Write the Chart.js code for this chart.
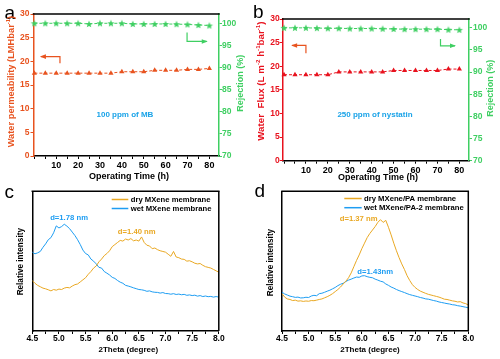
<!DOCTYPE html>
<html>
<head>
<title>MXene membranes</title>
<script src="https://cdn.jsdelivr.net/npm/chart.js"></script>
<style>
  body { margin: 0; background: #fff; }
  #wrap { position: relative; width: 500px; height: 359px; }
  #wrap canvas { position: absolute; left: 0; top: 0; }
</style>
</head>
<body>
<div id="wrap">
  <canvas id="chartA" width="500" height="359"></canvas>
  <canvas id="chartB" width="500" height="359"></canvas>
  <canvas id="chartC" width="500" height="359"></canvas>
  <canvas id="chartD" width="500" height="359"></canvas>
</div>
<script>
// ---- data ----
const hours = [0, 5, 10, 15, 20, 25, 30, 35, 40, 45, 50, 55, 60, 65, 70, 75, 80];
const permA = [17.5, 17.5, 17.5, 17.5, 17.5, 17.5, 17.5, 17.5, 17.8, 17.8, 17.8, 18.1, 18.1, 18.1, 18.3, 18.3, 18.5];
const rejA  = [100, 100, 100, 100, 100, 99.85, 100, 100, 100, 99.85, 99.85, 99.85, 99.85, 99.8, 99.75, 99.6, 99.5];
const fluxB = [18.2, 18.2, 18.2, 18.2, 18.2, 18.8, 18.8, 18.8, 18.8, 18.8, 19.1, 19.1, 19.1, 19.1, 19.1, 19.4, 19.4];
const rejB  = [100, 100, 100, 99.95, 99.9, 99.9, 99.85, 99.85, 99.85, 99.8, 99.75, 99.7, 99.7, 99.7, 99.7, 99.6, 99.55];

const hourTicks = [0, 5, 10, 15, 20, 25, 30, 35, 40, 45, 50, 55, 60, 65, 70, 75, 80];
const leftTicks = [0, 2.5, 5, 7.5, 10, 12.5, 15, 17.5, 20, 22.5, 25, 27.5, 30];
const rejTicks = [70, 72.5, 75, 77.5, 80, 82.5, 85, 87.5, 90, 92.5, 95, 97.5, 100];

const theta = [4.50, 4.55, 4.60, 4.65, 4.70, 4.75, 4.80, 4.85, 4.90, 4.95,
               5.00, 5.05, 5.10, 5.15, 5.20, 5.25, 5.30, 5.35, 5.40, 5.45,
               5.50, 5.55, 5.60, 5.65, 5.70, 5.75, 5.80, 5.85, 5.90, 5.95,
               6.00, 6.05, 6.10, 6.15, 6.20, 6.25, 6.30, 6.35, 6.40, 6.45,
               6.50, 6.55, 6.60, 6.65, 6.70, 6.75, 6.80, 6.85, 6.90, 6.95,
               7.00, 7.05, 7.10, 7.15, 7.20, 7.25, 7.30, 7.35, 7.40, 7.45,
               7.50, 7.55, 7.60, 7.65, 7.70, 7.75, 7.80, 7.85, 7.90, 7.95,
               8.00];
const dryC = [36.5, 34.5, 33.0, 32.0, 31.0, 30.5, 29.8, 29.0, 30.0, 29.5,
              30.3, 30.0, 31.0, 31.5, 31.2, 32.5, 33.5, 34.0, 35.5, 37.0,
              38.5, 41.0, 43.0, 45.5, 47.0, 50.0, 52.0, 54.5, 56.0, 58.0,
              61.0, 62.5, 64.0, 65.5, 65.0, 66.5, 65.8, 66.8, 65.2, 65.8,
              65.0, 68.0, 64.0, 62.0, 61.5, 59.5, 60.0, 58.8, 58.0, 57.5,
              57.0, 55.5, 54.0, 57.5, 53.5, 53.0, 52.0, 51.8, 50.5, 50.8,
              50.0, 49.0, 48.5, 48.8, 47.5, 46.5, 46.0, 45.5, 44.5, 43.5,
              42.5];
const wetC = [57.0, 55.8, 56.5, 57.5, 60.5, 63.0, 66.0, 67.5, 71.0, 76.0,
              74.5, 75.5, 77.2, 75.8, 74.0, 71.5, 69.0, 66.0, 62.5, 58.5,
              56.0, 55.0, 52.0, 50.5, 48.5, 46.0, 45.5, 43.0, 41.8, 40.5,
              38.8, 38.0, 36.5, 35.3, 34.5, 33.0, 32.5, 31.9, 31.2, 30.6,
              30.0, 29.8, 29.4, 28.7, 29.0, 28.3, 28.0, 27.9, 27.4, 27.8,
              27.1, 27.0, 26.6, 27.0, 26.4, 26.7, 26.2, 26.5, 25.8, 26.1,
              25.6, 25.9, 25.2, 25.6, 24.9, 25.3, 24.8, 25.0, 24.5, 24.9,
              24.5];
const dryD = [27.0, 24.5, 23.2, 22.8, 22.0, 22.3, 21.6, 21.8, 21.4, 21.7,
              21.5, 22.0, 21.9, 22.3, 22.8, 23.2, 24.0, 24.8, 25.8, 27.0,
              28.5, 30.0, 31.8, 34.0, 36.0, 38.5, 42.0, 46.5, 51.0, 55.0,
              59.5, 63.5, 67.5, 70.5, 73.0, 75.5, 78.5, 80.5, 78.5, 80.0,
              75.0, 69.5, 63.5, 58.0, 53.0, 48.5, 44.5, 40.0, 36.5, 33.5,
              31.5, 30.0, 28.8, 28.0, 27.2, 26.5, 26.0, 25.5, 25.0, 24.5,
              23.8, 23.0, 22.8, 22.3, 21.8, 21.5, 21.0, 21.2, 20.3, 19.8,
              18.8];
const wetD = [28.0, 26.8, 26.0, 25.2, 24.8, 24.3, 24.5, 23.9, 24.0, 24.4,
              24.2, 25.3, 25.8, 25.5, 27.0, 27.3, 28.0, 28.8, 29.5, 30.5,
              31.5, 32.8, 33.8, 34.5, 35.8, 36.8, 37.5, 38.3, 39.0, 38.8,
              39.8, 40.0, 39.3, 38.8, 38.5, 37.5, 36.8, 36.0, 35.5, 34.0,
              33.0, 31.8, 31.0, 30.0, 29.2, 28.5, 27.8, 27.0, 26.3, 25.8,
              25.3, 24.8, 24.2, 23.8, 23.2, 23.0, 22.5, 22.0, 21.6, 21.0,
              20.6, 20.2, 19.8, 19.5, 19.0, 18.8, 18.3, 18.0, 17.6, 17.2,
              16.8];
const thetaTicks = [4.5, 4.75, 5, 5.25, 5.5, 5.75, 6, 6.25, 6.5, 6.75, 7, 7.25, 7.5, 7.75, 8];

// ---- look ----
const W = 500, H = 359;
const FAMILY = "'Liberation Sans', Arial, Helvetica, sans-serif";
const ORANGE = '#E8531F', RED = '#E8121E', GREEN = '#3FCF62', CYAN = '#1AA3E8';
const YELLOW = '#E9A823', BLUE = '#1E9DF2';
Chart.defaults.font.family = FAMILY;

function pad(L, R, T, B, lw, rw, bh) {
  return { left: L - lw, right: W - R - rw, top: T, bottom: H - B - bh };
}
function setTicks(list) {
  return s => { s.ticks = list.map(v => ({ value: v })); };
}
function pts(xs, ys) {
  return xs.map((x, i) => ({ x: x, y: ys[i] }));
}
function starImage(color) {
  const c = document.createElement('canvas');
  c.width = 10; c.height = 10;
  const g = c.getContext('2d');
  g.fillStyle = color;
  g.beginPath();
  for (let i = 0; i < 10; i++) {
    const r = i % 2 ? 1.6 : 3.8;
    const a = -Math.PI / 2 + i * Math.PI / 5;
    g.lineTo(5 + r * Math.cos(a), 5.3 + r * Math.sin(a));
  }
  g.closePath();
  g.fill();
  return c;
}

function drawText(ctx, it) {
  const segs = Array.isArray(it.t) ? it.t : [[it.t]];
  const w = it.bold === false ? '' : 'bold ';
  const main = w + it.size + 'px ' + FAMILY;
  const sup = w + (it.size * 0.62).toFixed(2) + 'px ' + FAMILY;
  ctx.save();
  ctx.translate(it.x, it.y);
  if (it.rot) ctx.rotate(it.rot * Math.PI / 180);
  let total = 0;
  segs.forEach(s => { ctx.font = s[1] ? sup : main; total += ctx.measureText(s[0]).width; });
  let x = it.align === 'left' ? 0 : -total / 2;
  ctx.fillStyle = it.color || '#000';
  ctx.textBaseline = it.baseline || 'middle';
  ctx.textAlign = 'left';
  segs.forEach(s => {
    ctx.font = s[1] ? sup : main;
    ctx.fillText(s[0], x, s[1] ? -it.size * 0.38 : 0);
    x += ctx.measureText(s[0]).width;
  });
  ctx.restore();
}

// frame sides, arrows, notes, titles and legend
const deco = {
  id: 'deco',
  afterDraw(chart, args, opts) {
    const ctx = chart.ctx;
    const ca = chart.chartArea;
    ctx.save();
    ctx.lineWidth = 1.5;
    ctx.strokeStyle = '#000';
    (opts.frame || []).forEach(side => {
      ctx.beginPath();
      if (side === 'top') { ctx.moveTo(ca.left - 0.75, ca.top); ctx.lineTo(ca.right + 0.75, ca.top); }
      if (side === 'right') { ctx.moveTo(ca.right, ca.top); ctx.lineTo(ca.right, ca.bottom); }
      ctx.stroke();
    });
    const xs = chart.scales.x;
    (opts.arrows || []).forEach(a => {
      const ys = chart.scales[a.axis];
      const p = a.path.map(q => [xs.getPixelForValue(q[0]), ys.getPixelForValue(q[1])]);
      ctx.strokeStyle = a.color;
      ctx.fillStyle = a.color;
      ctx.lineWidth = 1.2;
      ctx.beginPath();
      p.forEach((q, i) => i ? ctx.lineTo(q[0], q[1]) : ctx.moveTo(q[0], q[1]));
      ctx.stroke();
      const [x1, y1] = p[p.length - 2], [x2, y2] = p[p.length - 1];
      const ang = Math.atan2(y2 - y1, x2 - x1);
      const c = Math.cos(ang), s = Math.sin(ang);
      ctx.beginPath();
      ctx.moveTo(x2 + c, y2 + s);
      ctx.lineTo(x2 - 5 * c + 2.3 * s, y2 - 5 * s - 2.3 * c);
      ctx.lineTo(x2 - 5 * c - 2.3 * s, y2 - 5 * s + 2.3 * c);
      ctx.closePath();
      ctx.fill();
    });
    (opts.notes || []).forEach(n => {
      const ys = chart.scales[n.axis || 'y'];
      drawText(ctx, Object.assign({}, n, { x: xs.getPixelForValue(n.x), y: ys.getPixelForValue(n.y) }));
    });
    (opts.texts || []).forEach(t => drawText(ctx, t));
    if (opts.legend) {
      const L = opts.legend;
      chart.data.datasets.forEach((d, i) => {
        const y = L.ys[i];
        ctx.strokeStyle = d.borderColor;
        ctx.lineWidth = 1.5;
        ctx.beginPath();
        ctx.moveTo(L.x1, y);
        ctx.lineTo(L.x2, y);
        ctx.stroke();
        drawText(ctx, { t: d.label, x: L.tx, y: y, size: 7.7, align: 'left' });
      });
    }
    ctx.restore();
  }
};

function timeScales(xmin, xmax, lColor, rmax, lPad, rPad) {
  return {
    x: {
      type: 'linear', min: xmin, max: xmax,
      afterBuildTicks: setTicks(hourTicks),
      afterFit: s => { s.height = 24; },
      border: { color: '#000', width: 1.5 },
      grid: { drawOnChartArea: false, tickLength: 3, color: '#000' },
      ticks: {
        autoSkip: false, maxRotation: 0, padding: 1, color: '#000',
        font: { size: 9, weight: 'bold' },
        callback: v => (v % 10 === 0 && v > 0) ? v : ''
      }
    },
    yL: {
      position: 'left', min: 0, max: 30,
      afterBuildTicks: setTicks(leftTicks),
      afterFit: s => { s.width = 30; },
      border: { color: lColor, width: 1.5 },
      grid: { drawOnChartArea: false, tickLength: 3, color: lColor },
      ticks: {
        padding: lPad, color: lColor, font: { size: 8.5, weight: 'bold' },
        callback: v => v % 5 === 0 ? v : ''
      }
    },
    yR: {
      position: 'right', min: 70, max: rmax,
      afterBuildTicks: setTicks(rejTicks),
      afterFit: s => { s.width = 30; },
      border: { color: GREEN, width: 1.5 },
      grid: { drawOnChartArea: false, tickLength: 3, color: GREEN },
      ticks: {
        padding: rPad, color: GREEN, font: { size: 8.5, weight: 'bold' },
        callback: v => v % 5 === 0 ? v : ''
      }
    }
  };
}

function timeSets(flux, rej, color) {
  return [{
    data: pts(hours, flux), yAxisID: 'yL',
    borderColor: color, borderWidth: 1, borderDash: [3, 2],
    pointStyle: 'triangle', pointRadius: 3, pointBorderWidth: 0,
    pointBackgroundColor: color, clip: false
  }, {
    data: pts(hours, rej), yAxisID: 'yR',
    borderColor: GREEN, borderWidth: 1, borderDash: [3, 2],
    pointStyle: starImage(GREEN), pointRadius: 3, clip: false
  }];
}

function thetaScales() {
  return {
    x: {
      type: 'linear', min: 4.5, max: 8.0,
      afterBuildTicks: setTicks(thetaTicks),
      afterFit: s => { s.height = 18; },
      border: { color: '#000', width: 1.5 },
      grid: { drawOnChartArea: false, tickLength: 3, color: '#000' },
      ticks: {
        autoSkip: false, maxRotation: 0, padding: 0, color: '#000',
        font: { size: 8.5, weight: 'bold' },
        callback: v => Math.abs(v * 2 - Math.round(v * 2)) < 1e-6 ? v.toFixed(1) : ''
      }
    },
    y: {
      min: 0, max: 101,
      afterFit: s => { s.width = 4; },
      border: { color: '#000', width: 1.5 },
      grid: { display: false },
      ticks: { display: false }
    }
  };
}

const common = { responsive: false, animation: false, devicePixelRatio: 1, events: [] };

// a
new Chart(document.getElementById('chartA'), {
  type: 'line',
  data: { datasets: timeSets(permA, rejA, ORANGE) },
  options: Object.assign({}, common, {
    layout: { padding: pad(33.5, 219, 14, 156, 30, 30, 24) },
    scales: timeScales(-0.4, 84.4, ORANGE, 102.1, 1, 0),
    plugins: {
      legend: { display: false }, tooltip: { enabled: false },
      deco: {
        frame: ['top'],
        arrows: [
          { axis: 'yL', color: ORANGE, path: [[11.7, 19.6], [11.7, 21.0], [3, 21.0]] },
          { axis: 'yR', color: GREEN, path: [[69.8, 97.9], [69.8, 95.9], [78.8, 95.9]] }
        ],
        notes: [{ t: '100 ppm of MB', x: 41.4, y: 8.8, axis: 'yL', color: CYAN, size: 8 }],
        texts: [
          { t: 'a', x: 4.5, y: 19.3, size: 19, bold: false, align: 'left', baseline: 'alphabetic' },
          { t: [['Water permeability (LMHbar'], ['-1', 1], [')']], x: 11.7, y: 81.7, rot: -90, size: 9.3, color: ORANGE },
          { t: 'Rejection (%)', x: 240.8, y: 83.3, rot: -90, size: 9, color: GREEN },
          { t: 'Operating Time (h)', x: 129, y: 176.7, size: 9 }
        ]
      }
    }
  }),
  plugins: [deco]
});

// b
new Chart(document.getElementById('chartB'), {
  type: 'line',
  data: { datasets: timeSets(fluxB, rejB, RED) },
  options: Object.assign({}, common, {
    layout: { padding: pad(282.7, 469, 19, 160.7, 30, 30, 24) },
    scales: timeScales(-0.6, 84.4, RED, 102, 0, 1),
    plugins: {
      legend: { display: false }, tooltip: { enabled: false },
      deco: {
        frame: ['top'],
        arrows: [
          { axis: 'yL', color: ORANGE, path: [[10, 22.75], [10, 24.4], [3.7, 24.4]] },
          { axis: 'yR', color: GREEN, path: [[71.4, 97.5], [71.4, 95.95], [78, 95.95]] }
        ],
        notes: [{ t: '250 ppm of nystatin', x: 41.5, y: 9.8, axis: 'yL', color: CYAN, size: 8 }],
        texts: [
          { t: 'b', x: 253, y: 18.3, size: 19, bold: false, align: 'left', baseline: 'alphabetic' },
          { t: [['Water  Flux (L m'], ['-2', 1], [' h'], ['-1', 1], ['bar'], ['-1', 1], [')']], x: 261.7, y: 81.2, rot: -90, size: 9.8, color: RED },
          { t: 'Rejection (%)', x: 490.5, y: 88.3, rot: -90, size: 9, color: GREEN },
          { t: 'Operating Time (h)', x: 378, y: 177.5, size: 9 }
        ]
      }
    }
  }),
  plugins: [deco]
});

// c
new Chart(document.getElementById('chartC'), {
  type: 'line',
  data: {
    datasets: [
      { label: 'dry MXene membrane', data: pts(theta, dryC), borderColor: YELLOW, borderWidth: 1, pointRadius: 0 },
      { label: 'wet MXene membrane', data: pts(theta, wetC), borderColor: BLUE, borderWidth: 1, pointRadius: 0 }
    ]
  },
  options: Object.assign({}, common, {
    layout: { padding: pad(32.3, 218.8, 191.3, 331, 4, 0, 18) },
    scales: thetaScales(),
    plugins: {
      legend: { display: false }, tooltip: { enabled: false },
      deco: {
        frame: ['top', 'right'],
        legend: { x1: 111.7, x2: 128.3, tx: 130.7, ys: [199.5, 208.5] },
        notes: [
          { t: 'd=1.78 nm', x: 5.19, y: 81.6, color: BLUE, size: 7.7 },
          { t: 'd=1.40 nm', x: 6.46, y: 71.9, color: YELLOW, size: 7.7 }
        ],
        texts: [
          { t: 'c', x: 4.5, y: 197.5, size: 19, bold: false, align: 'left', baseline: 'alphabetic' },
          { t: 'Relative intensity', x: 20.5, y: 261.7, rot: -90, size: 8.2 },
          { t: '2Theta (degree)', x: 128.3, y: 350, size: 8 }
        ]
      }
    }
  }),
  plugins: [deco]
});

// d
new Chart(document.getElementById('chartD'), {
  type: 'line',
  data: {
    datasets: [
      { label: 'dry MXene/PA membrane', data: pts(theta, dryD), borderColor: YELLOW, borderWidth: 1, pointRadius: 0 },
      { label: 'wet MXene/PA-2 membrane', data: pts(theta, wetD), borderColor: BLUE, borderWidth: 1, pointRadius: 0 }
    ]
  },
  options: Object.assign({}, common, {
    layout: { padding: pad(282, 468.3, 191.3, 331, 4, 0, 18) },
    scales: thetaScales(),
    plugins: {
      legend: { display: false }, tooltip: { enabled: false },
      deco: {
        frame: ['top', 'right'],
        legend: { x1: 344.3, x2: 361.7, tx: 364, ys: [198.5, 207.7] },
        notes: [
          { t: 'd=1.37 nm', x: 5.94, y: 80.9, color: YELLOW, size: 7.7 },
          { t: 'd=1.43nm', x: 6.25, y: 42.5, color: BLUE, size: 7.7 }
        ],
        texts: [
          { t: 'd', x: 254.5, y: 196.7, size: 19, bold: false, align: 'left', baseline: 'alphabetic' },
          { t: 'Relative intensity', x: 271.2, y: 262.5, rot: -90, size: 8.2 },
          { t: '2Theta (degree)', x: 370, y: 350, size: 8 }
        ]
      }
    }
  }),
  plugins: [deco]
});
</script>
</body>
</html>
